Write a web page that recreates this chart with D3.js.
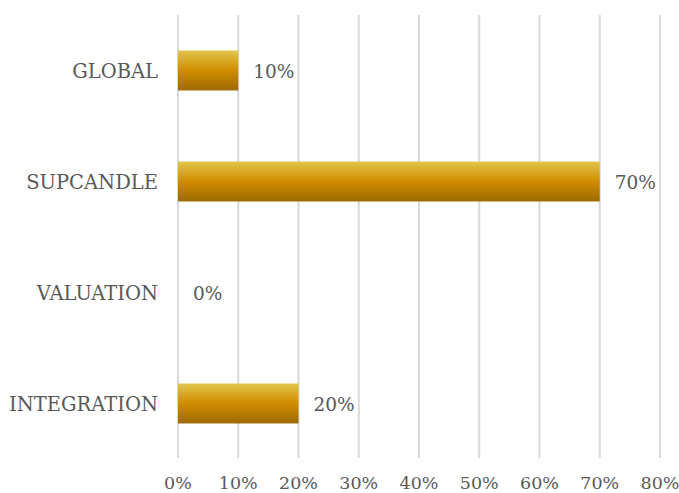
<!DOCTYPE html>
<html>
<head>
<meta charset="utf-8">
<script src="https://cdn.jsdelivr.net/npm/d3@7"></script>
<style>
  body { margin: 0; background: #fff; }
  svg text { font-family: "DejaVu Serif", "Liberation Serif", serif; fill: #595959; }
</style>
</head>
<body>
<svg id="chart" width="679" height="493"></svg>
<script>
const categories = ['GLOBAL', 'SUPCANDLE', 'VALUATION', 'INTEGRATION'];
const values = [0.10, 0.70, 0.00, 0.20];
const tickValues = [0, 0.1, 0.2, 0.3, 0.4, 0.5, 0.6, 0.7, 0.8];

const width = 679, height = 493;
const margin = { top: 15, right: 19, bottom: 34, left: 178 };

const svg = d3.select('#chart');

const defs = svg.append('defs');
const grad = defs.append('linearGradient')
  .attr('id', 'barGrad')
  .attr('x1', 0).attr('y1', 0).attr('x2', 0).attr('y2', 1);
grad.append('stop').attr('offset', '0%').attr('stop-color', '#e2c64c');
grad.append('stop').attr('offset', '50%').attr('stop-color', '#d08c00');
grad.append('stop').attr('offset', '100%').attr('stop-color', '#9d6a05');

const x = d3.scaleLinear()
  .domain([0, 0.8])
  .range([margin.left, width - margin.right]);

const y = d3.scaleBand()
  .domain(categories)
  .range([margin.top, 459])
  .paddingInner(0.64)
  .paddingOuter(0.32);

// gridlines
svg.append('g')
  .selectAll('line')
  .data(tickValues)
  .join('line')
  .attr('x1', (d) => x(d))
  .attr('x2', (d) => x(d))
  .attr('y1', margin.top)
  .attr('y2', 458)
  .attr('stroke', '#d9d9d9')
  .attr('stroke-width', 2);

// x tick labels
svg.append('g')
  .selectAll('text')
  .data(tickValues)
  .join('text')
  .attr('x', (d) => x(d))
  .attr('y', 489)
  .attr('text-anchor', 'middle')
  .attr('font-size', 17.5)
  .text((d) => d3.format('.0%')(d));

// bars
svg.append('g')
  .selectAll('rect')
  .data(categories)
  .join('rect')
  .attr('x', x(0))
  .attr('y', (d) => y(d))
  .attr('height', y.bandwidth())
  .attr('width', (d, i) => x(values[i]) - x(0))
  .attr('fill', 'url(#barGrad)');

// category labels
svg.append('g')
  .selectAll('text')
  .data(categories)
  .join('text')
  .attr('x', margin.left - 20)
  .attr('y', (d) => y(d) + y.bandwidth() / 2)
  .attr('dy', '0.36em')
  .attr('text-anchor', 'end')
  .attr('font-size', 19.5)
  .text((d) => d);

// value labels
svg.append('g')
  .selectAll('text')
  .data(categories)
  .join('text')
  .attr('x', (d, i) => x(values[i]) + 15)
  .attr('y', (d) => y(d) + y.bandwidth() / 2)
  .attr('dy', '0.4em')
  .attr('font-size', 18.5)
  .text((d, i) => d3.format('.0%')(values[i]));
</script>
</body>
</html>
